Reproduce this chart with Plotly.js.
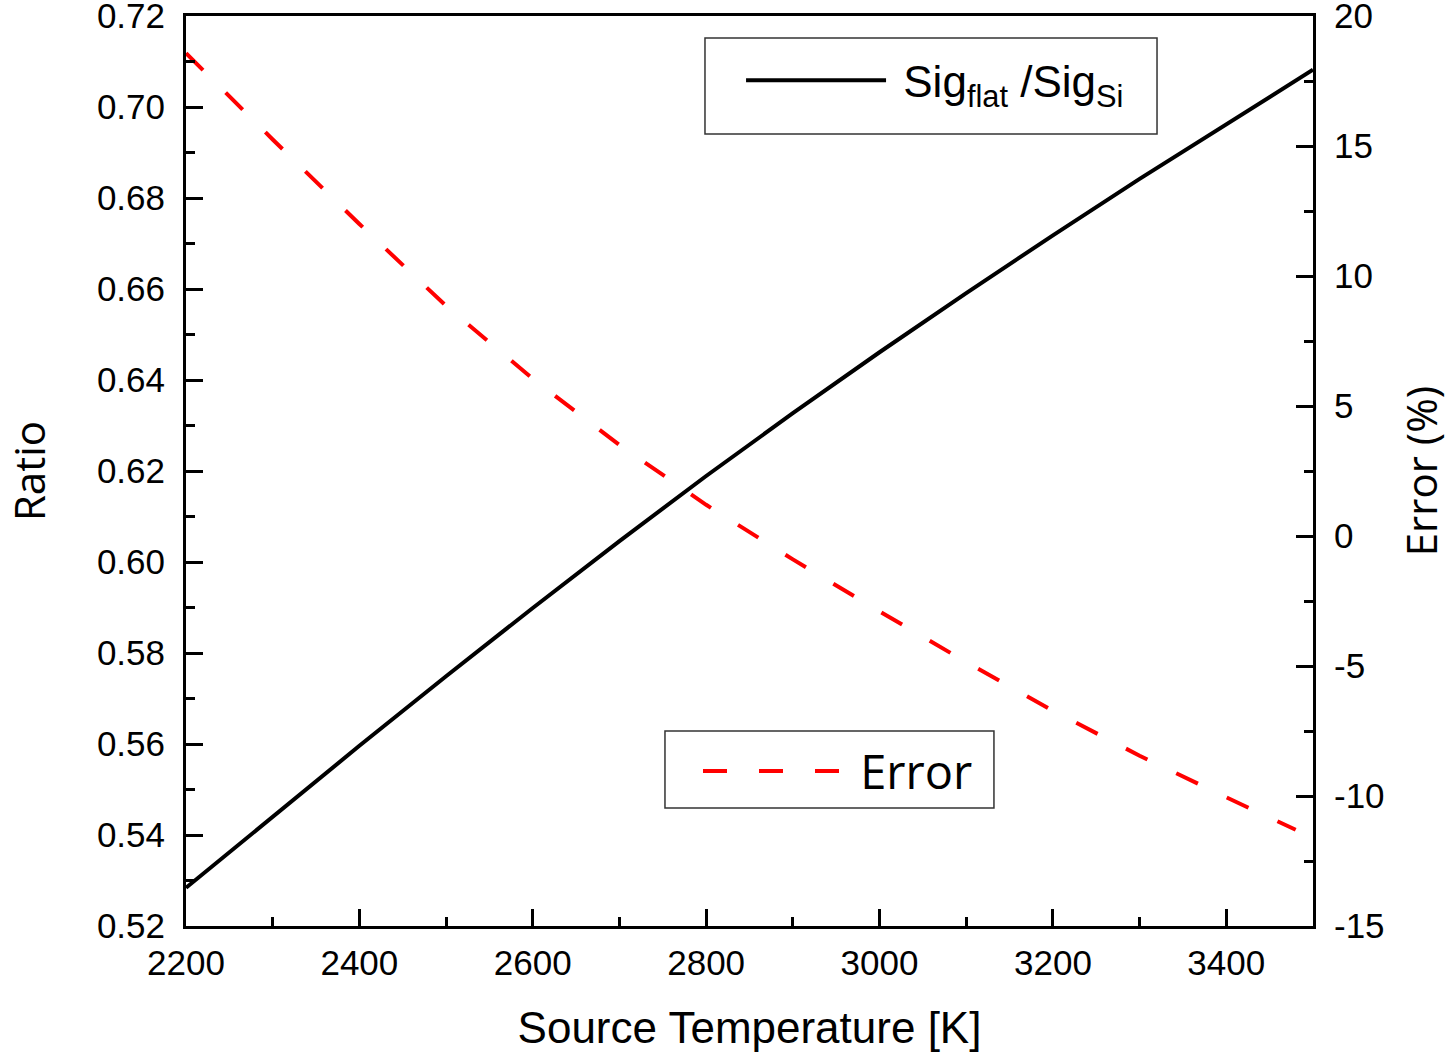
<!DOCTYPE html>
<html>
<head>
<meta charset="utf-8">
<script src="https://cdn.plot.ly/plotly-3.0.1.min.js"></script>
<style>html,body{margin:0;padding:0;background:#fff;}#chart{width:1449px;height:1055px;}</style>
</head>
<body>
<div id="chart"></div>
<script>
// Data
const tempRatio = [2200, 2300, 2400, 2500, 2600, 2700, 2800, 2900, 3000, 3100, 3200, 3300, 3400, 3500];
const ratioValues = [0.5284, 0.5441, 0.5596, 0.5749, 0.5899, 0.6046, 0.6189, 0.6327, 0.6461, 0.6591, 0.6718, 0.6842, 0.6963, 0.7082];
const tempError = [2200, 2300, 2400, 2500, 2600, 2700, 2800, 2900, 3000, 3100, 3200, 3300, 3400, 3480];
const errorValues = [18.57, 15.25, 12.0, 8.85, 6.05, 3.5, 1.2, -0.9, -2.9, -4.85, -6.72, -8.45, -10.05, -11.3];
const xTicks = [2200, 2400, 2600, 2800, 3000, 3200, 3400];
const ratioTicks = [0.52, 0.54, 0.56, 0.58, 0.60, 0.62, 0.64, 0.66, 0.68, 0.70, 0.72];
const errorTicks = [-15, -10, -5, 0, 5, 10, 15, 20];
const seriesNames = ['\u00a0Sig<sub>flat</sub>\u00a0/Sig<sub>Si</sub>', '\u00a0Error'];

const arial = 'Liberation Sans, Arial, sans-serif';
const open = 'Open Sans, sans-serif';

const traces = [
  {x: tempRatio, y: ratioValues, type: 'scatter', mode: 'lines', name: seriesNames[0],
   line: {color: '#000000', width: 4}, xaxis: 'x', yaxis: 'y', legend: 'legend'},
  {x: tempError, y: errorValues, type: 'scatter', mode: 'lines', name: seriesNames[1],
   line: {color: '#ff0000', width: 4, dash: '24px,32px'}, xaxis: 'x', yaxis: 'y2', legend: 'legend2'}
];

const tickCommon = {
  ticks: 'inside', ticklen: 17, tickwidth: 3, tickcolor: '#000',
  showline: true, linewidth: 3, linecolor: '#000', showgrid: false, zeroline: false,
  ticklabeloverflow: 'allow',
  tickfont: {family: arial, size: 35, color: '#000'}
};

const boxLine = {color: '#333', width: 1.5};

const layout = {
  width: 1449, height: 1055,
  margin: {l: 186, r: 136, t: 16, b: 129, pad: 0},
  paper_bgcolor: '#fff', plot_bgcolor: '#fff',
  xaxis: Object.assign({}, tickCommon, {
    range: [2200, 3500], tickmode: 'array', tickvals: xTicks, ticktext: xTicks.map(String),
    mirror: true, ticklabelstandoff: 4,
    minor: {dtick: 100, ticks: 'inside', ticklen: 9, tickwidth: 3, tickcolor: '#000', showgrid: false},
    title: {text: 'Source Temperature [K]', font: {family: arial, size: 44, color: '#000'}, standoff: 32}
  }),
  yaxis: Object.assign({}, tickCommon, {
    range: [0.52, 0.72], tickmode: 'array', tickvals: ratioTicks, ticktext: ratioTicks.map(v => v.toFixed(2)),
    mirror: false, ticklabelstandoff: 11,
    minor: {dtick: 0.01, ticks: 'inside', ticklen: 9, tickwidth: 3, tickcolor: '#000', showgrid: false},
    title: {text: 'Ratio', font: {family: open, size: 42, color: '#000'}, standoff: 60}
  }),
  yaxis2: Object.assign({}, tickCommon, {
    range: [-15, 20], tickmode: 'array', tickvals: errorTicks, ticktext: errorTicks.map(String),
    overlaying: 'y', side: 'right', ticklabelstandoff: 11,
    minor: {dtick: 2.5, ticks: 'inside', ticklen: 9, tickwidth: 3, tickcolor: '#000', showgrid: false},
    title: {text: 'Error (%)', font: {family: open, size: 42, color: '#000'}, standoff: 32}
  }),
  shapes: [
    {type: 'rect', xref: 'paper', yref: 'paper', x0: 0.4605, x1: 0.8616, y0: 0.8703, y1: 0.9758,
     line: boxLine, fillcolor: '#fff', layer: 'above'},
    {type: 'rect', xref: 'paper', yref: 'paper', x0: 0.4250, x1: 0.7169, y0: 0.1297, y1: 0.2143,
     line: boxLine, fillcolor: '#fff', layer: 'above'}
  ],
  showlegend: true,
  legend: {x: 0.4925, y: 0.9681, xanchor: 'left', yanchor: 'top', bgcolor: 'rgba(0,0,0,0)', borderwidth: 0,
    font: {family: arial, size: 44, color: '#000'}, itemwidth: 140},
  legend2: {x: 0.4543, y: 0.2110, xanchor: 'left', yanchor: 'top', bgcolor: 'rgba(0,0,0,0)', borderwidth: 0,
    font: {family: open, size: 47, color: '#000'}, itemwidth: 140}
};

Plotly.newPlot('chart', traces, layout, {displayModeBar: false, staticPlot: true});
</script>
</body>
</html>
